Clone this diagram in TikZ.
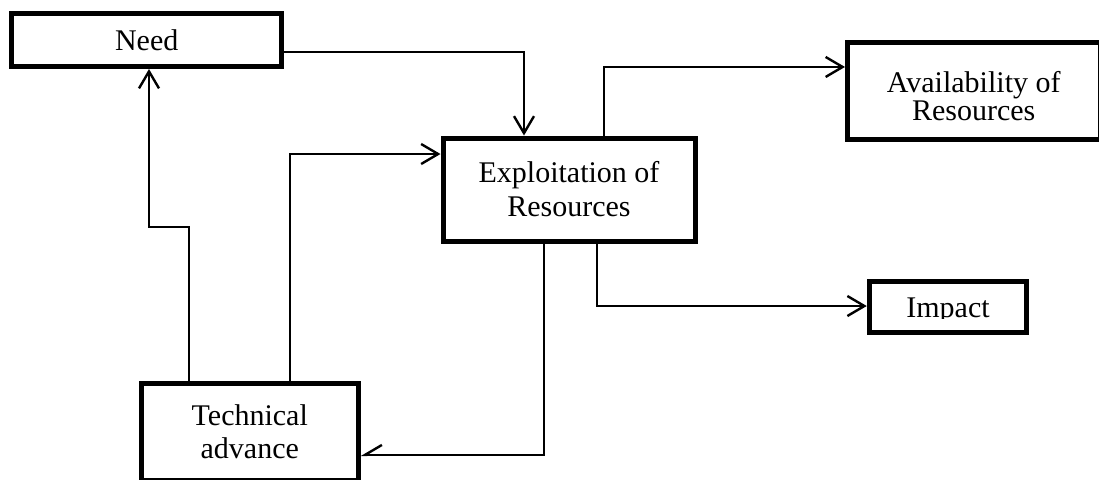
\documentclass[tikz,border=0pt]{standalone}
\usepackage{fontspec}
\setmainfont{Liberation Serif}
\usepackage{tikz}
\usetikzlibrary{arrows.meta}

\begin{document}
\begin{tikzpicture}[x=0.5pt, y=-0.5pt,
  box/.style={draw, line width=2.5pt, inner sep=0pt, align=center, font=\fontsize{15}{17}\selectfont},
  arr/.style={line width=1.2pt, -{Straight Barb[length=8.5pt, width=10pt]}},
  halfarr/.style={line width=1.2pt, -{Straight Barb[length=8.5pt, width=10pt, right]}}]
\useasboundingbox (0, 0) rectangle (1099, 479);
\node at (146.7, 40) (N) [box, minimum width=135pt, minimum height=26.5pt] {Need};
\node at (569, 189.5) (E) [box, minimum width=126pt, minimum height=51.5pt] {Exploitation of\\Resources};
\node at (973.75, 90.75) (A) [box, minimum width=126.25pt, minimum height=48.25pt, font=\fontsize{15}{14}\selectfont] {\rule{0pt}{15.5pt}Availability of\\Resources};
\node at (948, 307) (I) [box, minimum width=78.75pt, minimum height=25.75pt] {};
\node at (249.75, 431.75) (T) [box, minimum width=108.25pt, minimum height=48.75pt, font=\fontsize{15}{16.5}\selectfont] {Technical\\advance};
\begin{scope}
\clip (I.north west) rectangle ([yshift=8.25pt]I.south east);
\node at ([yshift=-5pt]I.center) (It) [anchor=base, font=\fontsize{15}{17}\selectfont] {Impact};
\end{scope}
\draw[arr] ([yshift=-6pt]N.east) -| ([xshift=-22.5pt]E.north);
\draw[arr] ([xshift=-30.4pt]T.north) -- ++(0, -153.5) -| ([xshift=1.15pt]N.south);
\draw[arr] ([xshift=20.1pt]T.north) |- ([yshift=17.75pt]E.west);
\draw[arr] ([xshift=17.5pt]E.north) |- ([yshift=11.9pt]A.west);
\draw[arr] ([xshift=14pt]E.south) |- ([yshift=0.5pt]I.west);
\draw[halfarr] ([xshift=-12.5pt]E.south) |- ([yshift=-11.6pt]T.east);
\end{tikzpicture}
\end{document}
